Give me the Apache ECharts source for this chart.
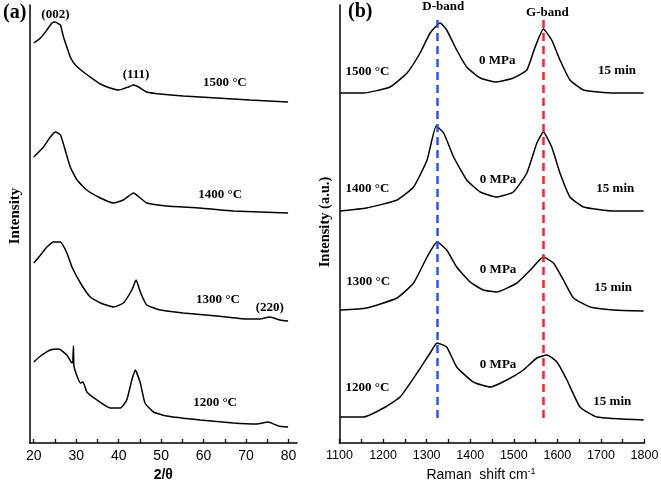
<!DOCTYPE html>
<html><head><meta charset="utf-8">
<script src="https://cdn.jsdelivr.net/npm/echarts@6/dist/echarts.min.js"></script>
<style>html,body{margin:0;padding:0;background:#fff}#c{width:661px;height:481px}</style>
</head><body><div id="c"></div>
<script>
// ---- XRD panel (a): 2θ vs intensity (a.u.) ----
const xrdTicks = [20,25,30,35,40,45,50,55,60,65,70,75,80];
const xrdTickLabels = [20,30,40,50,60,70,80];
const xrd1500 = [[20,400],[21.6,405],[23.1,413],[24.3,420],[25.1,421],[25.9,419],[26.3,418],[27.0,406],[27.8,396],[28.6,386],[29.8,378],[31.4,372],[33.3,366],[35.7,359],[38.0,355],[40.0,353],[42.3,356],[43.5,358],[44.7,356],[46.6,351],[49.8,349],[55.2,347],[63.1,345],[70.9,343],[79.9,341]];
const xrd1400 = [[20,286],[22.3,296],[23.9,306],[25.1,311],[26.3,308],[27.4,293],[28.6,276],[30.2,263],[32.5,253],[35.7,245],[38.8,240],[41.1,243],[43.5,250],[45.1,245],[46.6,240],[51.3,237],[59.2,235],[67.0,232],[79.9,230]];
const xrd1300 = [[20,180],[21.6,188],[23.1,196],[24.7,201],[26.3,201],[27.8,190],[29.0,176],[31.0,160],[33.3,146],[35.7,140],[38.8,136],[41.1,140],[43.1,153],[44.1,163],[45.1,151],[46.6,138],[49.8,133],[55.2,130],[63.1,127],[70.1,124],[73.2,124],[75.6,126],[78.0,123],[79.9,122]];
const xrd1200 = [[20,81],[21.6,87],[23.9,93],[25.9,94],[27.8,88],[29.0,80],[29.2,82],[29.35,97],[29.5,76],[31.0,60],[31.6,61],[32.5,51],[34.9,43],[38.0,35],[40.4,35],[41.9,43],[43.1,63],[43.9,73],[45.1,60],[46.2,40],[48.2,31],[51.3,27],[59.2,23],[67.0,20],[72.5,19],[75.2,21],[77.6,17],[79.9,16]];
const xrdNotes = [['(002)',25.1,428],['(111)',44.1,368],['1500 °C',65.0,360],['1400 °C',63.9,248],['1300 °C',63.4,143],['(220)',75.6,135],['1200 °C',62.7,40]];

// ---- Raman panel (b): Raman shift (cm-1) vs intensity (a.u.) ----
const ramanTicks = [1100,1150,1200,1250,1300,1350,1400,1450,1500,1550,1600,1650,1700,1750,1800];
const ramanTickLabels = [1100,1200,1300,1400,1500,1600,1700,1800];
const raman1500 = [[1101,350],[1155,350],[1216,356],[1255,370],[1285,390],[1308,410],[1331,420],[1346,413],[1369,393],[1392,376],[1423,365],[1461,361],[1499,365],[1530,373],[1549,396],[1568,414],[1587,403],[1606,383],[1629,363],[1660,353],[1729,350],[1798,350]];
const raman1400 = [[1101,232],[1162,235],[1232,243],[1270,256],[1301,283],[1322,317],[1339,310],[1362,286],[1392,263],[1423,251],[1461,246],[1499,251],[1530,270],[1553,300],[1568,311],[1587,296],[1606,270],[1629,246],[1660,236],[1729,232],[1798,232]];
const raman1300 = [[1101,133],[1162,135],[1232,145],[1270,160],[1301,186],[1324,201],[1346,193],[1369,176],[1400,161],[1430,153],[1461,151],[1507,160],[1538,173],[1568,186],[1591,180],[1614,163],[1637,145],[1675,136],[1729,133],[1798,132]];
const raman1200 = [[1101,26],[1155,26],[1201,35],[1239,46],[1278,70],[1308,90],[1324,100],[1346,96],[1369,76],[1407,61],[1446,56],[1484,63],[1522,73],[1553,85],[1576,88],[1599,81],[1622,63],[1652,36],[1691,26],[1798,23]];
const dBand = 1325, gBand = 1568;
const ramanNotes = [['D-band',1338,436],['G-band',1577,430],
  ['1500 °C',1164,371],['0 MPa',1462,382],['15 min',1737,372],
  ['1400 °C',1164,254],['0 MPa',1464,263],['15 min',1733,254],
  ['1300 °C',1166,161],['0 MPa',1464,173],['15 min',1728,155],
  ['1200 °C',1164,55],['0 MPa',1464,78],['15 min',1726,41]];

const serif = '"Liberation Serif","DejaVu Serif",serif';
const sans = '"Liberation Sans",Arial,sans-serif';
const lineStyle = {color:'#000', width:1.5};
function curve(data, idx){
  return {type:'line', xAxisIndex:idx, yAxisIndex:idx, data:data, showSymbol:false, smooth:0.15,
    lineStyle:lineStyle, itemStyle:{color:'#000'}, silent:true, z:3};
}
function notes(list, idx){
  return {type:'scatter', xAxisIndex:idx, yAxisIndex:idx, symbolSize:0, silent:true, z:5,
    itemStyle:{opacity:1, color:'#000'}, emphasis:{disabled:true},
    data:list.map(n=>({value:[n[1],n[2]], name:n[0]})),
    label:{show:true, position:'inside', formatter:p=>p.name, color:'#000', opacity:1, fontFamily:serif, fontWeight:'bold',
      fontSize:13, textBorderWidth:0}};
}
const axisLineStyle = {lineStyle:{color:'#000', width:1.5}};
const chart = echarts.init(document.getElementById('c'), null, {renderer:'canvas'});
chart.setOption({
  animation:false,
  backgroundColor:'#fff',
  grid:[{left:29.5, width:267.5, top:5, height:438, outerBoundsMode:'none', containLabel:false},
        {left:339.5, width:305, top:5, height:438, outerBoundsMode:'none', containLabel:false}],
  xAxis:[
    {gridIndex:0, type:'value', min:19, max:82, axisLine:axisLineStyle,
     axisTick:{show:true, inside:true, length:4, customValues:xrdTicks, lineStyle:{color:'#000', width:1.3}},
     axisLabel:{customValues:xrdTickLabels, margin:6, color:'#000', fontFamily:sans, fontSize:14, formatter:v=>String(v)},
     splitLine:{show:false}, name:'2/θ', nameLocation:'middle', nameGap:22,
     nameTextStyle:{fontFamily:sans, fontWeight:'bold', fontSize:14, color:'#000'}},
    {gridIndex:1, type:'value', min:1100, max:1800, axisLine:axisLineStyle,
     axisTick:{show:true, inside:true, length:4, customValues:ramanTicks, lineStyle:{color:'#000', width:1.3}},
     axisLabel:{customValues:ramanTickLabels, margin:6, color:'#000', fontFamily:sans, fontSize:12.5, formatter:v=>String(v)},
     splitLine:{show:false}, name:'Raman  shift cm{s|-1}', nameLocation:'middle', nameGap:21,
     nameTextStyle:{fontFamily:sans, fontSize:14, color:'#000', padding:[0,22,0,0],
       rich:{s:{fontFamily:sans, fontSize:9, verticalAlign:'top', padding:[0,0,8,0], color:'#000'}}}}
  ],
  yAxis:[
    {gridIndex:0, type:'value', min:0, max:438, axisLine:{show:true, lineStyle:{color:'#000', width:1.5}},
     axisTick:{show:false}, axisLabel:{show:false}, splitLine:{show:false},
     name:'Intensity', nameLocation:'middle', nameGap:7,
     nameTextStyle:{fontFamily:serif, fontWeight:'bold', fontSize:15, color:'#000', padding:[0,0,0,16]}},
    {gridIndex:1, type:'value', min:0, max:438, axisLine:{show:true, lineStyle:{color:'#000', width:1.5}},
     axisTick:{show:false}, axisLabel:{show:false}, splitLine:{show:false},
     name:'Intensity (a.u.)', nameLocation:'middle', nameGap:7,
     nameTextStyle:{fontFamily:serif, fontWeight:'bold', fontSize:14.5, color:'#000', padding:[0,0,0,4]}}
  ],
  graphic:[
    {type:'text', left:3, top:3, style:{text:'(a)', font:'bold 20px '+serif, fill:'#000'}},
    {type:'text', left:348, top:2, style:{text:'(b)', font:'bold 20px '+serif, fill:'#000'}}
  ],
  series:[
    curve(xrd1500,0), curve(xrd1400,0), curve(xrd1300,0), curve(xrd1200,0),
    notes(xrdNotes,0),
    curve(raman1500,1), curve(raman1400,1), curve(raman1300,1), curve(raman1200,1),
    notes(ramanNotes,1),
    {type:'line', xAxisIndex:1, yAxisIndex:1, data:[], silent:true, z:2,
     markLine:{symbol:'none', silent:true, label:{show:false},
       data:[
         [{coord:[dBand,423], lineStyle:{color:'#2f55dd'}},{coord:[dBand,25]}],
         [{coord:[gBand,423], lineStyle:{color:'#ee2a2a'}},{coord:[gBand,20]}]
       ],
       lineStyle:{type:[8,5], width:2.5}}}
  ]
});
</script></body></html>
